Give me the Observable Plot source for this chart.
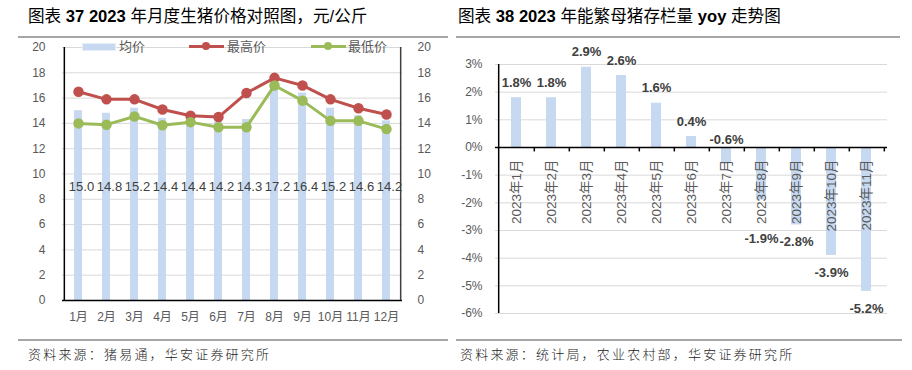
<!DOCTYPE html>
<html>
<head>
<meta charset="utf-8">
<script src="https://cdn.jsdelivr.net/npm/d3@7"></script>
<script src="https://cdn.jsdelivr.net/npm/@observablehq/plot@0.6"></script>
<style>
  body { margin: 0; background: #fff; }
  #wrap { position: relative; width: 912px; height: 370px; background: #fff; overflow: hidden;
          font-family: "Liberation Sans", "Noto Sans CJK SC", sans-serif; }
  .title { position: absolute; top: 3px; font-size: 16.6px; color: #000; white-space: nowrap;
           font-family: "Liberation Sans", "Noto Sans CJK SC", sans-serif; }
  .title b { font-weight: bold; }
  .hline { position: absolute; height: 2px; background: #a6a6a6; }
  .foot { position: absolute; top: 344px; font-size: 13px; color: #222; white-space: nowrap; letter-spacing: 2.2px;
          font-family: "Noto Sans CJK SC", sans-serif; font-weight: 300; }
  .chart { position: absolute; top: 0; }
  .leg { position: absolute; font-size: 13px; color: #595959; line-height: 16px; white-space: nowrap;
         font-family: "Noto Sans CJK SC", sans-serif; }
  .sw { position: absolute; }
</style>
</head>
<body>
<div id="wrap">
  <div class="title" style="left:28px">图表 <b>37 2023</b> 年月度生猪价格对照图，元/公斤</div>
  <div class="title" style="left:458px">图表 <b>38 2023</b> 年能繁母猪存栏量 <b>yoy</b> 走势图</div>
  <div class="hline" style="left:18px; width:430px; top:36px"></div>
  <div class="hline" style="left:456px; width:444px; top:36px"></div>
  <div id="c1" class="chart" style="left:0"></div>
  <div id="c2" class="chart" style="left:456px"></div>
  <div id="legend"></div>
  <div class="hline" style="left:18px; width:430px; top:339px"></div>
  <div class="hline" style="left:456px; width:446px; top:339px"></div>
  <div class="foot" style="left:28px">资料来源：猪易通，华安证券研究所</div>
  <div class="foot" style="left:460px">资料来源：统计局，农业农村部，华安证券研究所</div>
</div>
<script>
// ---------- data ----------
const months1 = ["1月","2月","3月","4月","5月","6月","7月","8月","9月","10月","11月","12月"];
const avgPrice = [15.0,14.8,15.2,14.4,14.4,14.2,14.3,17.2,16.4,15.2,14.6,14.2];
const highPrice = [16.5,15.9,15.9,15.1,14.6,14.5,16.4,17.6,17.0,15.9,15.2,14.7];
const lowPrice = [14.0,13.9,14.55,13.85,14.1,13.7,13.7,17.0,15.8,14.2,14.2,13.55];
const yTicks1 = [0,2,4,6,8,10,12,14,16,18,20];
const seriesNames1 = ["均价","最高价","最低价"];

const months2 = ["2023年1月","2023年2月","2023年3月","2023年4月","2023年5月","2023年6月",
                 "2023年7月","2023年8月","2023年9月","2023年10月","2023年11月"];
const yoy = [1.8,1.8,2.9,2.6,1.6,0.4,-0.6,-1.9,-2.8,-3.9,-5.2];
const yTicks2 = [3,2,1,0,-1,-2,-3,-4,-5,-6];

// ---------- styles ----------
const FONT = "'Liberation Sans','Noto Sans CJK SC',sans-serif";
const BLUE = "#c6d9f1", RED = "#c0504d", GREEN = "#9bbb59", GRID = "#d9d9d9", TXT = "#595959";

// ---------- chart 1 ----------
const t1 = months1.map((m, i) => ({m, avg: avgPrice[i], high: highPrice[i], low: lowPrice[i]}));
const W1 = 456, ML1 = 62, MR1 = 54;
const step1 = (W1 - ML1 - MR1) / months1.length;

const chart1 = Plot.plot({
  width: W1, height: 340, marginTop: 47, marginBottom: 40, marginLeft: ML1, marginRight: MR1,
  style: {fontFamily: FONT, fontSize: "12px", color: TXT, background: "transparent", overflow: "visible"},
  x: {domain: months1, paddingInner: 0.72, paddingOuter: 0.36, label: null},
  y: {domain: [0, 20], label: null},
  marks: [
    Plot.gridY(yTicks1, {stroke: GRID, strokeOpacity: 1}),
    Plot.barY(t1, {x: "m", y: "avg", fill: BLUE}),
    Plot.axisX({tickSize: 0, tickPadding: 12, fontSize: 12, fill: TXT}),
    Plot.axisY({ticks: yTicks1, tickSize: 0, tickPadding: 17, fontSize: 12, fill: TXT}),
    Plot.axisY({anchor: "right", ticks: yTicks1, tickSize: 0, tickPadding: 15, fontSize: 12, fill: TXT, textAnchor: "start"}),
    Plot.ruleY([0], {stroke: "#000", strokeWidth: 1.5}),
    Plot.ruleX([months1[0]], {dx: -step1 / 2, stroke: "#000", strokeWidth: 1.5}),
    Plot.ruleX([months1[months1.length - 1]], {dx: step1 / 2, stroke: "#404040", strokeWidth: 1.5}),
    Plot.text(t1, {x: "m", y: () => 9, text: d => d.avg.toFixed(1), dx: 3, fontSize: 13, fill: "#404040", lineAnchor: "middle"}),
    Plot.line(t1, {x: "m", y: "high", stroke: RED, strokeWidth: 3}),
    Plot.dot(t1, {x: "m", y: "high", r: 4.5, fill: RED, stroke: RED}),
    Plot.line(t1, {x: "m", y: "low", stroke: GREEN, strokeWidth: 3}),
    Plot.dot(t1, {x: "m", y: "low", r: 4.5, fill: GREEN, stroke: GREEN})
  ]
});
document.getElementById("c1").appendChild(chart1);

// legend for chart 1
const leg = document.getElementById("legend");
function add(html) { leg.insertAdjacentHTML("beforeend", html); }
add(`<div class="sw" style="left:82px; top:43px; width:32px; height:6px; background:${BLUE}; border:1px solid #e6eef8"></div>`);
add(`<div class="leg" style="left:119px; top:38px">${seriesNames1[0]}</div>`);
add(`<div class="sw" style="left:189px; top:44.5px; width:35px; height:3.5px; background:${RED}"></div>`);
add(`<div class="sw" style="left:201.5px; top:42px; width:8px; height:8px; border-radius:50%; background:${RED}"></div>`);
add(`<div class="leg" style="left:227px; top:38px">${seriesNames1[1]}</div>`);
add(`<div class="sw" style="left:311px; top:44.5px; width:35px; height:3.5px; background:${GREEN}"></div>`);
add(`<div class="sw" style="left:324px; top:42px; width:8px; height:8px; border-radius:50%; background:${GREEN}"></div>`);
add(`<div class="leg" style="left:348px; top:38px">${seriesNames1[2]}</div>`);

// ---------- chart 2 ----------
const t2 = months2.map((m, i) => ({m, v: yoy[i]}));
const W2 = 456, ML2 = 39, MR2 = 25;
const step2 = (W2 - ML2 - MR2) / months2.length;
const pct = d => `${d.toFixed(1)}%`;

const chart2 = Plot.plot({
  width: W2, height: 340, marginTop: 64, marginBottom: 27, marginLeft: ML2, marginRight: MR2,
  style: {fontFamily: FONT, fontSize: "12px", color: TXT, background: "transparent", overflow: "visible"},
  x: {domain: months2, paddingInner: 0.72, paddingOuter: 0.36, axis: null},
  y: {domain: [-6, 3], label: null},
  marks: [
    Plot.gridY(yTicks2.filter(d => d !== 0), {stroke: GRID, strokeOpacity: 1}),
    Plot.barY(t2, {x: "m", y: "v", fill: BLUE}),
    Plot.axisY({ticks: yTicks2, tickSize: 0, tickPadding: 13, fontSize: 12, fill: TXT, tickFormat: d => `${d}%`}),
    Plot.text(t2, {x: "m", y: () => 0, text: "m", rotate: -90, textAnchor: "end", lineAnchor: "middle",
                   dy: 12, fontSize: 13.5, fill: TXT}),
    Plot.ruleY([0], {stroke: "#000", strokeWidth: 1.5}),
    Plot.ruleX(t2, {x: "m", y1: 0, y2: -0.16, dx: step2 / 2, stroke: "#000", strokeWidth: 1.5}),
    Plot.ruleX([months2[0]], {dx: -step2 / 2, stroke: "#000", strokeWidth: 1.5}),
    Plot.text(t2.filter(d => d.v >= 0), {x: "m", y: "v", text: d => pct(d.v), dy: -15, lineAnchor: "middle",
                   fontSize: 13, fontWeight: "bold", fill: "#404040"}),
    Plot.text(t2.filter(d => d.v < 0 && d.v > -1), {x: "m", y: () => 0, text: d => pct(d.v), dy: -8, lineAnchor: "middle",
                   fontSize: 13, fontWeight: "bold", fill: "#404040"}),
    Plot.text(t2.filter(d => d.v <= -1), {x: "m", y: d => Math.min(d.v, -2.7), text: d => pct(d.v), dy: 17, lineAnchor: "middle",
                   fontSize: 13, fontWeight: "bold", fill: "#404040"})
  ]
});
document.getElementById("c2").appendChild(chart2);
</script>
</body>
</html>
